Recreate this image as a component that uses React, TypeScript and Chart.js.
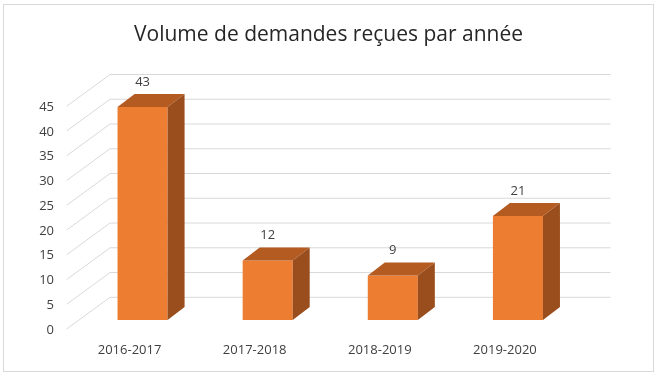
import React, { useEffect, useRef } from "react";
import { Chart, registerables } from "chart.js";

Chart.register(...registerables);

const categories = ["2016-2017", "2017-2018", "2018-2019", "2019-2020"];
const requestCounts = [43, 12, 9, 21];
const yTickValues = [0, 5, 10, 15, 20, 25, 30, 35, 40, 45];
const chartTitle = "Volume de demandes reçues par année";

const FONT = "'Open Sans', 'Liberation Sans', sans-serif";
const FRONT = "#ED7D31";
const TOP = "#B45B22";
const SIDE = "#9A4E1D";
const GRID = "#D9D9D9";
const TEXT = "#404040";

// depth geometry (pixels)
const BAR_DX = 17;
const BAR_DY = -13;
const WALL_DX = 30;
const WALL_DY = -22.7;
const FLOOR_DX = -13.3;
const FLOOR_DY = 9;

const threeD = {
  id: "threeD",
  beforeDraw(chart: any) {
    const ctx = chart.ctx;
    ctx.save();
    ctx.strokeStyle = GRID;
    ctx.lineWidth = 1;
    ctx.strokeRect(3.5, 4.5, chart.width - 7, chart.height - 9);
    ctx.restore();
  },
  beforeDatasetsDraw(chart: any) {
    const ctx = chart.ctx;
    const { left, right } = chart.chartArea;
    const y = chart.scales.y;
    ctx.save();
    ctx.strokeStyle = GRID;
    ctx.lineWidth = 1;
    yTickValues.forEach((v) => {
      const py = y.getPixelForValue(v);
      ctx.beginPath();
      ctx.moveTo(left + FLOOR_DX, py + FLOOR_DY);
      ctx.lineTo(left + WALL_DX, py + WALL_DY);
      ctx.lineTo(right + WALL_DX, py + WALL_DY);
      ctx.stroke();
    });
    ctx.restore();
  },
  afterDatasetsDraw(chart: any) {
    const ctx = chart.ctx;
    const meta = chart.getDatasetMeta(0);
    ctx.save();
    meta.data.forEach((bar: any, i: number) => {
      const { x, y, base, width } = bar.getProps(["x", "y", "base", "width"], true);
      const L = x - width / 2;
      const R = x + width / 2;
      ctx.fillStyle = TOP;
      ctx.beginPath();
      ctx.moveTo(L, y);
      ctx.lineTo(R, y);
      ctx.lineTo(R + BAR_DX, y + BAR_DY);
      ctx.lineTo(L + BAR_DX, y + BAR_DY);
      ctx.closePath();
      ctx.fill();
      ctx.fillStyle = SIDE;
      ctx.beginPath();
      ctx.moveTo(R, y);
      ctx.lineTo(R + BAR_DX, y + BAR_DY);
      ctx.lineTo(R + BAR_DX, base + BAR_DY);
      ctx.lineTo(R, base);
      ctx.closePath();
      ctx.fill();
      ctx.fillStyle = TEXT;
      ctx.font = `13px ${FONT}`;
      ctx.textAlign = "center";
      ctx.textBaseline = "middle";
      ctx.fillText(String(requestCounts[i]), x, y - 25);
    });
    ctx.restore();
  },
};

export default function App() {
  const ref = useRef<HTMLCanvasElement>(null);
  useEffect(() => {
    const chart = new Chart(ref.current!, {
      type: "bar",
      data: {
        labels: categories,
        datasets: [
          {
            data: requestCounts,
            backgroundColor: FRONT,
            borderWidth: 0,
            categoryPercentage: 1,
            barPercentage: 0.4,
            clip: false as any,
          },
        ],
      },
      options: {
        animation: false,
        responsive: false,
        maintainAspectRatio: false,
        layout: { padding: 0 },
        plugins: {
          legend: { display: false },
          tooltip: { enabled: false },
          title: {
            display: true,
            text: chartTitle,
            color: "#262626",
            font: { family: FONT, size: 21, weight: "normal" },
            padding: { top: 22, bottom: 50 },
          },
        },
        scales: {
          x: {
            grid: { display: false, drawTicks: false },
            border: { display: false },
            ticks: {
              color: TEXT,
              font: { family: FONT, size: 13 },
              padding: 22,
              labelOffset: -13,
              maxRotation: 0,
              autoSkip: false,
            },
            afterFit: (s: any) => {
              s.height = 56;
            },
          },
          y: {
            min: 0,
            max: 45,
            grid: { display: false, drawTicks: false },
            border: { display: false },
            afterBuildTicks: (s: any) => {
              s.ticks = yTickValues.map((v) => ({ value: v }));
            },
            ticks: {
              color: TEXT,
              font: { family: FONT, size: 13 },
              padding: 26,
              labelOffset: 10,
            },
            afterFit: (s: any) => {
              s.width = 80;
            },
          },
          depthSpace: {
            type: "linear",
            position: "right",
            display: true,
            grid: { display: false, drawTicks: false },
            border: { display: false },
            ticks: { display: false },
            afterFit: (s: any) => {
              s.width = 76.5;
            },
          },
        },
      },
      plugins: [threeD],
    });
    return () => chart.destroy();
  }, []);
  return (
    <div style={{ position: "absolute", left: 0, top: 0, width: 657, height: 376, background: "#fff" }}>
      <canvas ref={ref} width={657} height={376} style={{ display: "block" }} />
    </div>
  );
}
